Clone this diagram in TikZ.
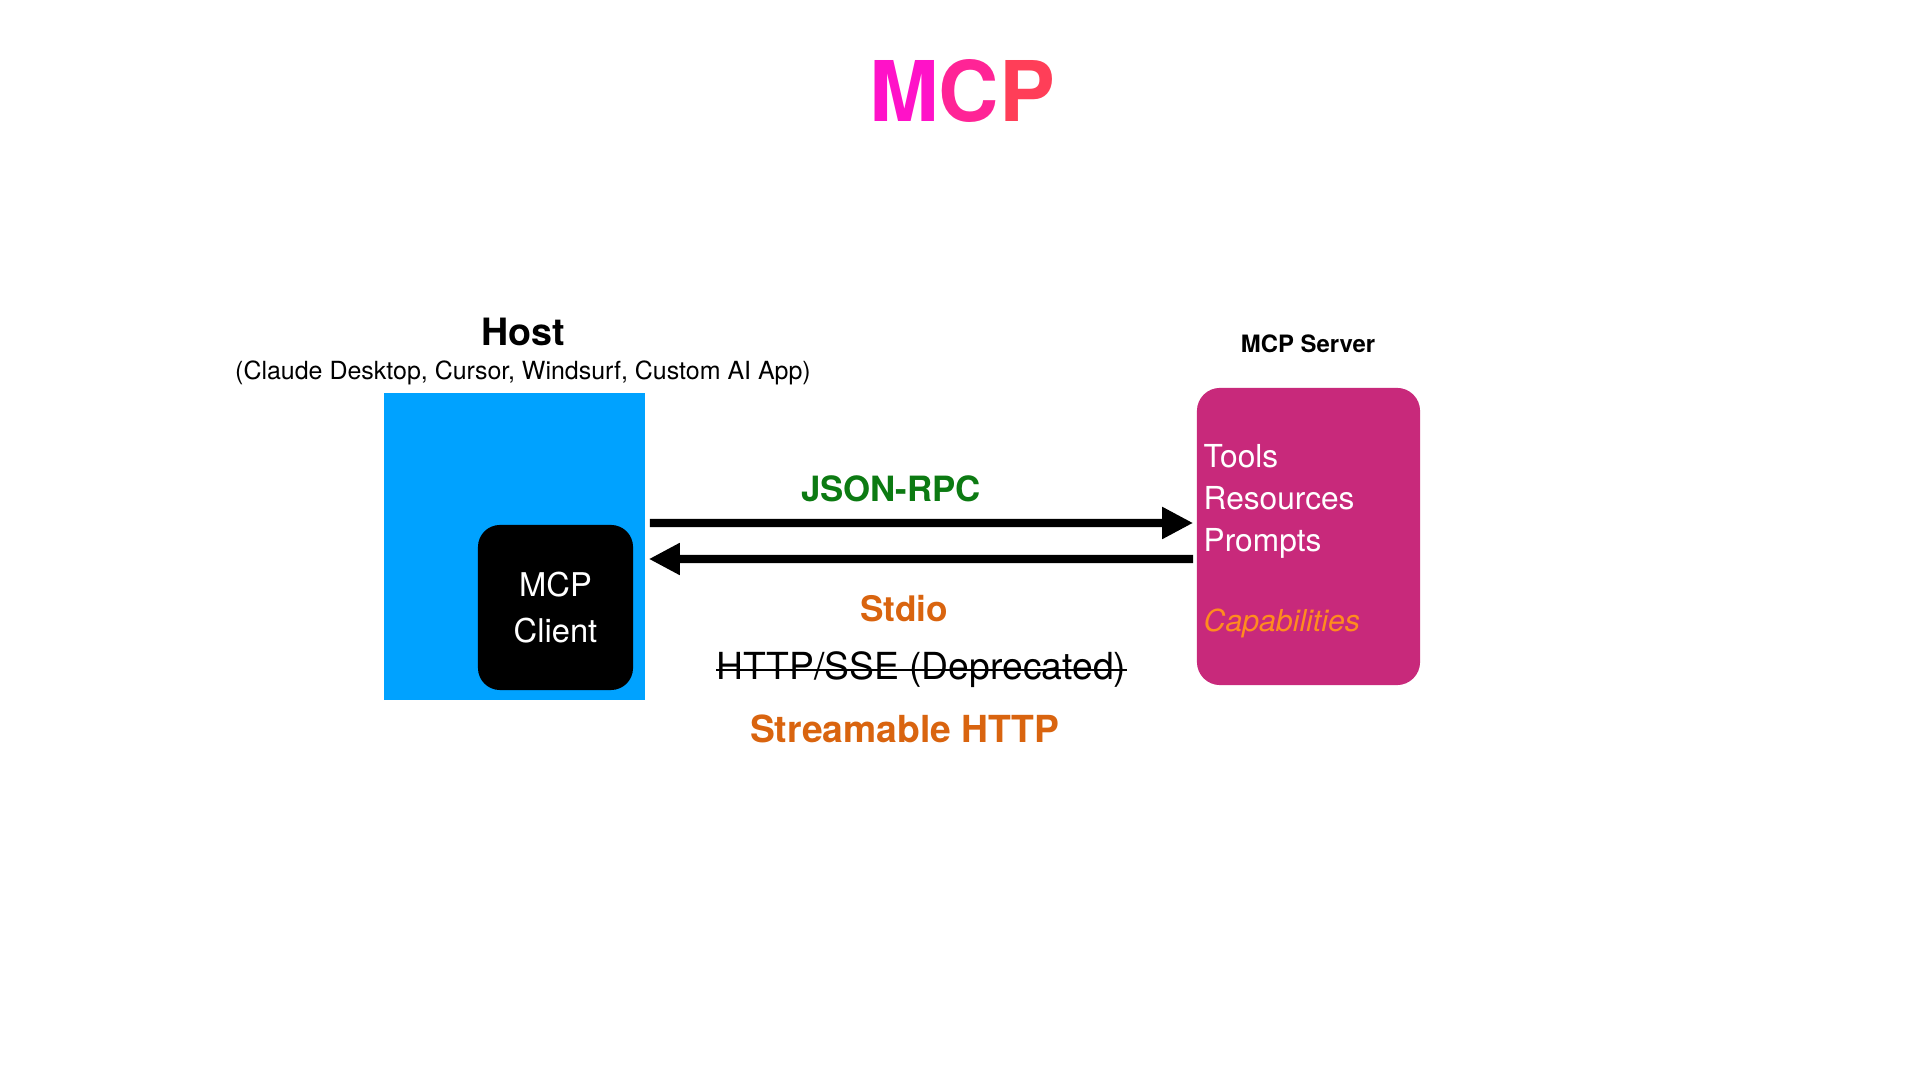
\documentclass[tikz,border=0pt]{standalone}
\usepackage{fontspec}
\setmainfont{TeX Gyre Heros}
\usepackage{tikz}
\usepackage{xcolor}
\usetikzlibrary{arrows.meta, positioning}

\definecolor{hostblue}{RGB}{0,162,255}
\definecolor{servermag}{RGB}{200,41,123}
\definecolor{capsorange}{RGB}{255,140,30}
\definecolor{rpcgreen}{RGB}{12,122,18}
\definecolor{transorange}{RGB}{217,100,15}
\definecolor{titlepink}{RGB}{255,18,200}
\definecolor{titlemid}{RGB}{255,36,150}
\definecolor{titlered}{RGB}{255,62,88}

\newcommand{\fsz}[1]{\fontsize{#1}{1.2\dimexpr#1pt\relax}\selectfont}

\tikzset{
  hostbox/.style={fill=hostblue, minimum width=2.61cm, minimum height=3.07cm, inner sep=0pt},
  clientbox/.style={fill=black, rounded corners=0.22cm, minimum width=1.55cm, minimum height=1.65cm,
    text=white, align=center, font=\fsz{9.3}, inner sep=0pt},
  serverbox/.style={fill=servermag, rounded corners=0.23cm, minimum width=2.23cm, minimum height=2.97cm, inner sep=0pt},
  flow/.style={line width=2.3pt, -{Triangle[length=0.31cm, width=0.30cm]}},
  capitem/.style={text=white, anchor=base west, inner sep=0pt, font=\fsz{9}},
}

\begin{document}
\begin{tikzpicture}[x=0.01cm, y=-0.01cm]
        \useasboundingbox (0,0) rectangle (1920,1080);

        % Title, pink to red
        \node[anchor=base, inner sep=0pt, font=\fsz{23.8}\bfseries] (title) at (962,122)
          {\textcolor{titlepink}{M}\textcolor{titlemid}{C}\textcolor{titlered}{P}};

        % Host
        \node[anchor=base, font=\fsz{10.7}\bfseries] (hostlabel) at (523,346) {Host};
        \node[anchor=base, font=\fsz{7.1}] (hostapps) at (523,380) {(Claude Desktop, Cursor, Windsurf, Custom AI App)};
        \node[hostbox] (host) at (514.5,546.5) {};
        \node[clientbox] (client) at (555.5,607.5) {MCP\\[2pt]Client};

        % MCP Server
        \node[anchor=base, font=\fsz{6.8}\bfseries] (serverlabel) at (1308,353) {MCP Server};
        \node[serverbox] (server) at (1308.5,536.5) {};
        \node[capitem] (tools) at (1203,468) {Tools};
        \node[capitem] (resources) at (1203,510) {Resources};
        \node[capitem] (prompts) at (1203,552) {Prompts};
        \node[capitem, text=capsorange, font=\fsz{8.6}\itshape] (capabilities) at (1203,632) {Capabilities};

        % Requests and responses
        \draw[flow] ([xshift=0.04cm, yshift=0.235cm]host.east) -- ([xshift=-0.03cm, yshift=0.135cm]server.west);
        \draw[flow] ([xshift=-0.03cm, yshift=-0.225cm]server.west) -- ([xshift=0.03cm, yshift=-0.125cm]host.east);
        \node[anchor=base, text=rpcgreen, font=\fsz{9.9}\bfseries] (rpc) at (891,502) {JSON-RPC};

        % Transports
        \node[anchor=base, text=transorange, font=\fsz{10}\bfseries] (stdio) at (904,622) {Stdio};
        \node[anchor=base, inner sep=0pt, font=\fsz{10.6}] (sse) at (921.5,680) {HTTP/SSE (Deprecated)};
        \draw[line width=0.6pt] (sse.west) -- (sse.east);
        \node[anchor=base, text=transorange, font=\fsz{10.6}\bfseries] (streamable) at (904.5,743) {Streamable HTTP};

    \end{tikzpicture}
\end{document}
